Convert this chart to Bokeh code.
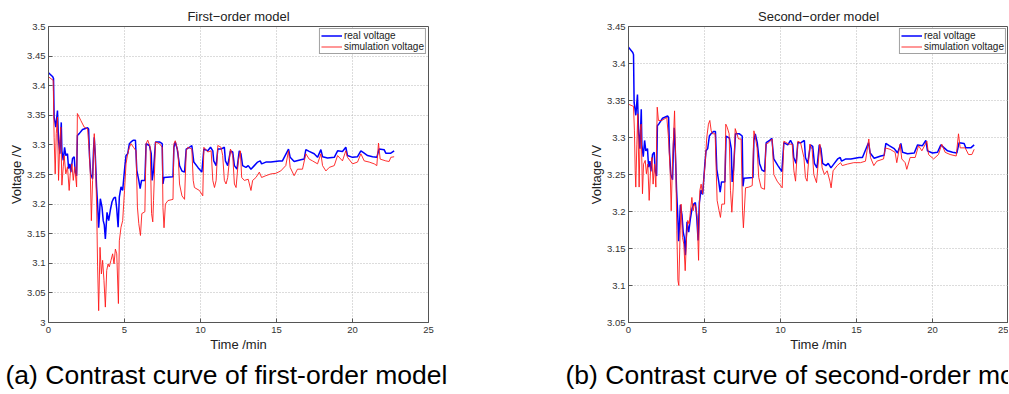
from bokeh.plotting import figure
from bokeh.layouts import row
from bokeh.models import (Legend, LegendItem, FixedTicker, CustomJSTickFormatter, Range1d, Title)
from bokeh.embed import file_html
from bokeh.resources import INLINE

FONT = "Liberation Sans"

# ---------------- data ----------------
t_real = [0.00, 0.28, 0.33, 0.37, 0.48, 0.59, 0.66, 0.75, 0.84, 0.88, 0.97, 1.06, 1.14, 1.25, 1.32,
          1.41, 1.47, 1.58, 1.69, 1.76, 1.85, 1.90, 2.02, 2.24, 2.57, 2.64, 2.70, 2.78, 2.90, 2.96,
          3.01, 3.08, 3.16, 3.23, 3.30, 3.35, 3.41, 3.52, 3.60, 3.67, 3.74, 3.85, 3.96, 4.07, 4.18,
          4.29, 4.40, 4.49, 4.58, 4.66, 4.77, 4.88, 5.02, 5.10, 5.21, 5.32, 5.43, 5.59, 5.72, 5.81,
          5.94, 6.03, 6.12, 6.34, 6.42, 6.64, 6.76, 6.82, 6.91, 7.04, 7.30, 7.48, 7.53, 7.60, 8.19,
          8.25, 8.34, 8.47, 8.62, 8.78, 8.95, 9.06, 9.28, 9.43, 9.56, 9.83, 10.09, 10.22, 10.48, 10.66,
          10.81, 10.87, 11.03, 11.14, 11.35, 11.57, 11.64, 11.79, 11.97, 12.12, 12.23, 12.40, 12.55,
          12.66, 12.77, 12.99, 13.14, 13.32, 13.54, 13.76, 13.93, 14.02, 14.30, 14.63, 15.17, 15.39,
          15.79, 15.90, 16.16, 16.60, 16.82, 16.93, 17.15, 17.48, 17.59, 17.70, 17.92, 18.03, 18.36,
          18.80, 19.02, 19.34, 19.56, 19.67, 20.00, 20.33, 20.55, 20.77, 20.99, 21.32, 21.60, 21.75,
          22.08, 22.19, 22.52, 22.74]
v_real = [3.422, 3.415, 3.412, 3.347, 3.330, 3.358, 3.308, 3.285, 3.338, 3.290, 3.274, 3.296, 3.282,
          3.285, 3.260, 3.268, 3.254, 3.277, 3.280, 3.254, 3.248, 3.316, 3.319, 3.326, 3.329, 3.327,
          3.280, 3.250, 3.243, 3.290, 3.313, 3.282, 3.230, 3.200, 3.160, 3.180, 3.209, 3.195, 3.172,
          3.165, 3.141, 3.186, 3.172, 3.190, 3.204, 3.210, 3.212, 3.192, 3.161, 3.212, 3.229, 3.223,
          3.263, 3.282, 3.285, 3.302, 3.305, 3.308, 3.308, 3.257, 3.240, 3.226, 3.240, 3.240, 3.302,
          3.299, 3.285, 3.240, 3.257, 3.305, 3.305, 3.302, 3.234, 3.245, 3.246, 3.296, 3.305, 3.293,
          3.265, 3.256, 3.254, 3.293, 3.296, 3.299, 3.271, 3.262, 3.254, 3.293, 3.290, 3.296, 3.290,
          3.273, 3.265, 3.293, 3.293, 3.296, 3.273, 3.265, 3.290, 3.288, 3.265, 3.259, 3.290, 3.285,
          3.265, 3.262, 3.265, 3.259, 3.265, 3.271, 3.273, 3.268, 3.271, 3.271, 3.273, 3.273, 3.293,
          3.279, 3.272, 3.275, 3.276, 3.292, 3.289, 3.285, 3.282, 3.279, 3.292, 3.280, 3.278, 3.279,
          3.290, 3.289, 3.296, 3.282, 3.279, 3.280, 3.290, 3.286, 3.282, 3.280, 3.279, 3.293, 3.292,
          3.286, 3.286, 3.290]

t_sim1 = [0.00, 0.31, 0.37, 0.44, 0.51, 0.59, 0.66, 0.75, 0.81, 0.88, 0.97, 1.03, 1.14, 1.25, 1.36,
          1.43, 1.54, 1.63, 1.72, 1.85, 1.90, 2.13, 2.35, 2.57, 2.68, 2.75, 2.82, 2.90, 3.01, 3.08,
          3.17, 3.23, 3.30, 3.39, 3.48, 3.56, 3.65, 3.74, 3.83, 3.92, 4.00, 4.11, 4.22, 4.31, 4.40,
          4.49, 4.60, 4.66, 4.77, 4.88, 5.00, 5.10, 5.21, 5.32, 5.43, 5.59, 5.76, 5.85, 5.94, 6.05,
          6.14, 6.34, 6.42, 6.53, 6.69, 6.78, 6.86, 6.91, 7.04, 7.30, 7.48, 7.53, 7.60, 7.69, 7.86,
          8.19, 8.25, 8.34, 8.52, 8.62, 8.78, 8.95, 9.06, 9.17, 9.43, 9.52, 9.60, 9.93, 10.15, 10.22,
          10.48, 10.70, 10.81, 10.92, 11.03, 11.14, 11.35, 11.46, 11.57, 11.68, 11.79, 11.97, 12.12,
          12.23, 12.34, 12.49, 12.62, 12.71, 12.88, 13.14, 13.32, 13.43, 13.65, 13.87, 14.02, 14.30,
          14.63, 14.96, 15.28, 15.61, 15.79, 15.90, 16.16, 16.38, 16.71, 16.93, 17.15, 17.37, 17.70,
          17.92, 18.03, 18.25, 18.47, 18.80, 19.02, 19.34, 19.56, 19.67, 20.00, 20.33, 20.55, 20.77,
          21.10, 21.43, 21.60, 21.71, 21.82, 22.19, 22.41, 22.52, 22.74]
v_sim1 = [3.415, 3.409, 3.313, 3.251, 3.319, 3.347, 3.240, 3.308, 3.330, 3.232, 3.263, 3.282, 3.251,
          3.263, 3.223, 3.251, 3.268, 3.240, 3.263, 3.229, 3.353, 3.341, 3.330, 3.327, 3.290, 3.251,
          3.172, 3.240, 3.319, 3.279, 3.195, 3.094, 3.020, 3.127, 3.082, 3.105, 3.071, 3.026, 3.088,
          3.099, 3.094, 3.105, 3.116, 3.099, 3.124, 3.116, 3.032, 3.138, 3.161, 3.172, 3.223, 3.268,
          3.285, 3.296, 3.302, 3.296, 3.290, 3.195, 3.167, 3.147, 3.184, 3.187, 3.302, 3.308, 3.296,
          3.184, 3.170, 3.206, 3.305, 3.302, 3.296, 3.194, 3.160, 3.200, 3.206, 3.208, 3.302, 3.307,
          3.288, 3.234, 3.214, 3.208, 3.290, 3.296, 3.293, 3.240, 3.228, 3.223, 3.214, 3.296, 3.288,
          3.290, 3.240, 3.228, 3.240, 3.299, 3.296, 3.282, 3.240, 3.234, 3.245, 3.293, 3.282, 3.234,
          3.228, 3.273, 3.290, 3.245, 3.240, 3.242, 3.223, 3.240, 3.245, 3.254, 3.245, 3.248, 3.251,
          3.252, 3.256, 3.265, 3.290, 3.262, 3.248, 3.259, 3.259, 3.285, 3.276, 3.273, 3.268, 3.285,
          3.265, 3.256, 3.262, 3.265, 3.282, 3.273, 3.290, 3.279, 3.268, 3.271, 3.285, 3.273, 3.271,
          3.268, 3.265, 3.303, 3.276, 3.273, 3.272, 3.279, 3.280]

t_sim2 = [0.00, 0.33, 0.39, 0.44, 0.48, 0.55, 0.61, 0.70, 0.77, 0.83, 0.92, 0.99, 1.10, 1.18, 1.27,
          1.36, 1.45, 1.54, 1.62, 1.71, 1.80, 1.89, 1.97, 2.19, 2.52, 2.63, 2.74, 2.81, 2.89, 3.03,
          3.11, 3.18, 3.25, 3.31, 3.40, 3.46, 3.55, 3.64, 3.73, 3.82, 3.90, 3.99, 4.08, 4.17, 4.25,
          4.34, 4.43, 4.52, 4.61, 4.69, 4.78, 4.87, 4.96, 5.04, 5.15, 5.26, 5.35, 5.44, 5.53, 5.70,
          5.83, 5.96, 6.05, 6.14, 6.32, 6.40, 6.49, 6.62, 6.71, 6.80, 6.89, 7.02, 7.24, 7.41, 7.50,
          7.56, 7.70, 7.92, 8.14, 8.25, 8.33, 8.46, 8.57, 8.73, 8.95, 9.04, 9.23, 9.45, 9.56, 9.78,
          10.11, 10.22, 10.55, 10.77, 10.88, 10.99, 11.14, 11.32, 11.54, 11.64, 11.75, 11.93, 12.08,
          12.19, 12.37, 12.59, 12.74, 12.89, 13.07, 13.25, 13.33, 13.46, 13.73, 13.95, 14.06, 14.39,
          14.82, 15.26, 15.59, 15.81, 15.92, 16.14, 16.34, 16.78, 16.89, 17.21, 17.54, 17.65, 17.87,
          17.98, 18.20, 18.31, 18.53, 18.86, 19.08, 19.30, 19.63, 19.74, 20.07, 20.39, 20.61, 20.83,
          21.16, 21.56, 21.71, 21.82, 22.15, 22.37, 22.59, 22.74]
v_sim2 = [3.345, 3.342, 3.309, 3.255, 3.233, 3.291, 3.332, 3.233, 3.309, 3.318, 3.224, 3.264, 3.269,
          3.251, 3.264, 3.215, 3.255, 3.273, 3.237, 3.264, 3.233, 3.341, 3.323, 3.323, 3.327, 3.300,
          3.255, 3.201, 3.264, 3.336, 3.264, 3.174, 3.107, 3.100, 3.174, 3.210, 3.165, 3.156, 3.120,
          3.165, 3.188, 3.183, 3.201, 3.219, 3.201, 3.210, 3.206, 3.192, 3.134, 3.228, 3.237, 3.224,
          3.246, 3.264, 3.300, 3.318, 3.323, 3.309, 3.305, 3.305, 3.215, 3.201, 3.192, 3.210, 3.210,
          3.318, 3.314, 3.305, 3.228, 3.199, 3.233, 3.312, 3.298, 3.298, 3.201, 3.178, 3.232, 3.233,
          3.235, 3.309, 3.302, 3.286, 3.246, 3.232, 3.230, 3.291, 3.293, 3.298, 3.250, 3.241, 3.232,
          3.295, 3.291, 3.291, 3.255, 3.241, 3.295, 3.293, 3.273, 3.246, 3.241, 3.291, 3.284, 3.250,
          3.239, 3.291, 3.259, 3.250, 3.255, 3.241, 3.232, 3.255, 3.262, 3.266, 3.262, 3.264, 3.266,
          3.266, 3.268, 3.298, 3.273, 3.262, 3.268, 3.271, 3.286, 3.284, 3.280, 3.266, 3.291, 3.271,
          3.266, 3.257, 3.273, 3.273, 3.289, 3.282, 3.295, 3.277, 3.271, 3.277, 3.291, 3.280, 3.277,
          3.275, 3.305, 3.286, 3.286, 3.277, 3.277, 3.284]

x_ticks = [0, 5, 10, 15, 20, 25]
y_ticks1 = [3.0, 3.05, 3.1, 3.15, 3.2, 3.25, 3.3, 3.35, 3.4, 3.45, 3.5]
y_ticks2 = [3.05, 3.1, 3.15, 3.2, 3.25, 3.3, 3.35, 3.4, 3.45]

titles = ["First\u2212order model", "Second\u2212order model"]
captions = ["(a) Contrast curve of first-order model", "(b) Contrast curve of second-order model"]
legend_labels = ["real voltage", "simulation voltage"]

FIG_H = 394


def make_panel(title, caption, y_lo, y_hi, y_ticks, t_sim, v_sim, width, min_left, min_right,
               cap_offset):
    p = figure(width=width, height=FIG_H, x_range=Range1d(0, 25), y_range=Range1d(y_lo, y_hi),
               output_backend="svg", toolbar_location=None,
               min_border_left=min_left, min_border_right=min_right,
               min_border_top=26, min_border_bottom=72)
    p.background_fill_color = "white"
    p.border_fill_color = "white"
    p.outline_line_color = "#555555"
    p.outline_line_width = 1

    p.title.text = title
    p.title.align = "center"
    p.title.text_font = FONT
    p.title.text_font_size = "13px"
    p.title.text_font_style = "normal"
    p.title.text_color = "#222222"
    p.title.standoff = 6

    fmt = CustomJSTickFormatter(code="return String(Math.round(tick*100)/100);")
    p.xaxis[0].ticker = FixedTicker(ticks=x_ticks)
    p.yaxis[0].ticker = FixedTicker(ticks=y_ticks)
    p.xaxis[0].formatter = fmt
    p.yaxis[0].formatter = fmt
    for ax in (p.xaxis[0], p.yaxis[0]):
        ax.major_tick_in = 4
        ax.major_tick_out = 0
        ax.minor_tick_line_color = None
        ax.axis_line_color = "#555555"
        ax.major_tick_line_color = "#555555"
        ax.major_label_text_font = FONT
        ax.major_label_text_font_size = "9.5px"
        ax.major_label_text_color = "#333333"
        ax.axis_label_text_font = FONT
        ax.axis_label_text_font_size = "13px"
        ax.axis_label_text_font_style = "normal"
        ax.axis_label_text_color = "#222222"
    p.xaxis[0].axis_label = "Time /min"
    p.yaxis[0].axis_label = "Voltage /V"
    p.xaxis[0].major_label_standoff = 4
    p.xaxis[0].axis_label_standoff = 1
    p.yaxis[0].major_label_standoff = 3
    p.yaxis[0].axis_label_standoff = 0

    for g in (p.xgrid[0], p.ygrid[0]):
        g.grid_line_color = "#b8b8b8"
        g.grid_line_dash = "1 2"
        g.grid_line_width = 1

    r1 = p.line(t_real, v_real, line_color="#0000ff", line_width=1.5)
    r2 = p.line(t_sim, v_sim, line_color="#ff1a1a", line_width=1.0, line_alpha=0.9)

    legend = Legend(items=[LegendItem(label=legend_labels[0], renderers=[r1]),
                           LegendItem(label=legend_labels[1], renderers=[r2])],
                    location="top_right", margin=2, padding=1, spacing=0,
                    glyph_width=21, glyph_height=11, label_height=11, label_standoff=2,
                    label_text_font=FONT, label_text_font_size="10px",
                    label_text_color="#222222",
                    border_line_color="#444444", border_line_width=1,
                    background_fill_color="white", background_fill_alpha=1)
    p.add_layout(legend)

    cap = Title(text=caption, align="left", offset=cap_offset, text_font=FONT,
                text_font_size="26.5px", text_font_style="normal", text_color="black",
                standoff=6)
    p.add_layout(cap, "below")
    return p


# left panel: frame x 48..428 ; right panel: frame x 628..1008
p1 = make_panel(titles[0], captions[0], 3.0, 3.5, y_ticks1, t_sim1, v_sim1,
                width=528, min_left=48, min_right=100, cap_offset=-43)
p2 = make_panel(titles[1], captions[1], 3.05, 3.45, y_ticks2, t_sim2, v_sim2,
                width=480, min_left=100, min_right=0, cap_offset=-63)

layout = row(p1, p2)
open("out.html", "w").write(file_html(layout, INLINE))
